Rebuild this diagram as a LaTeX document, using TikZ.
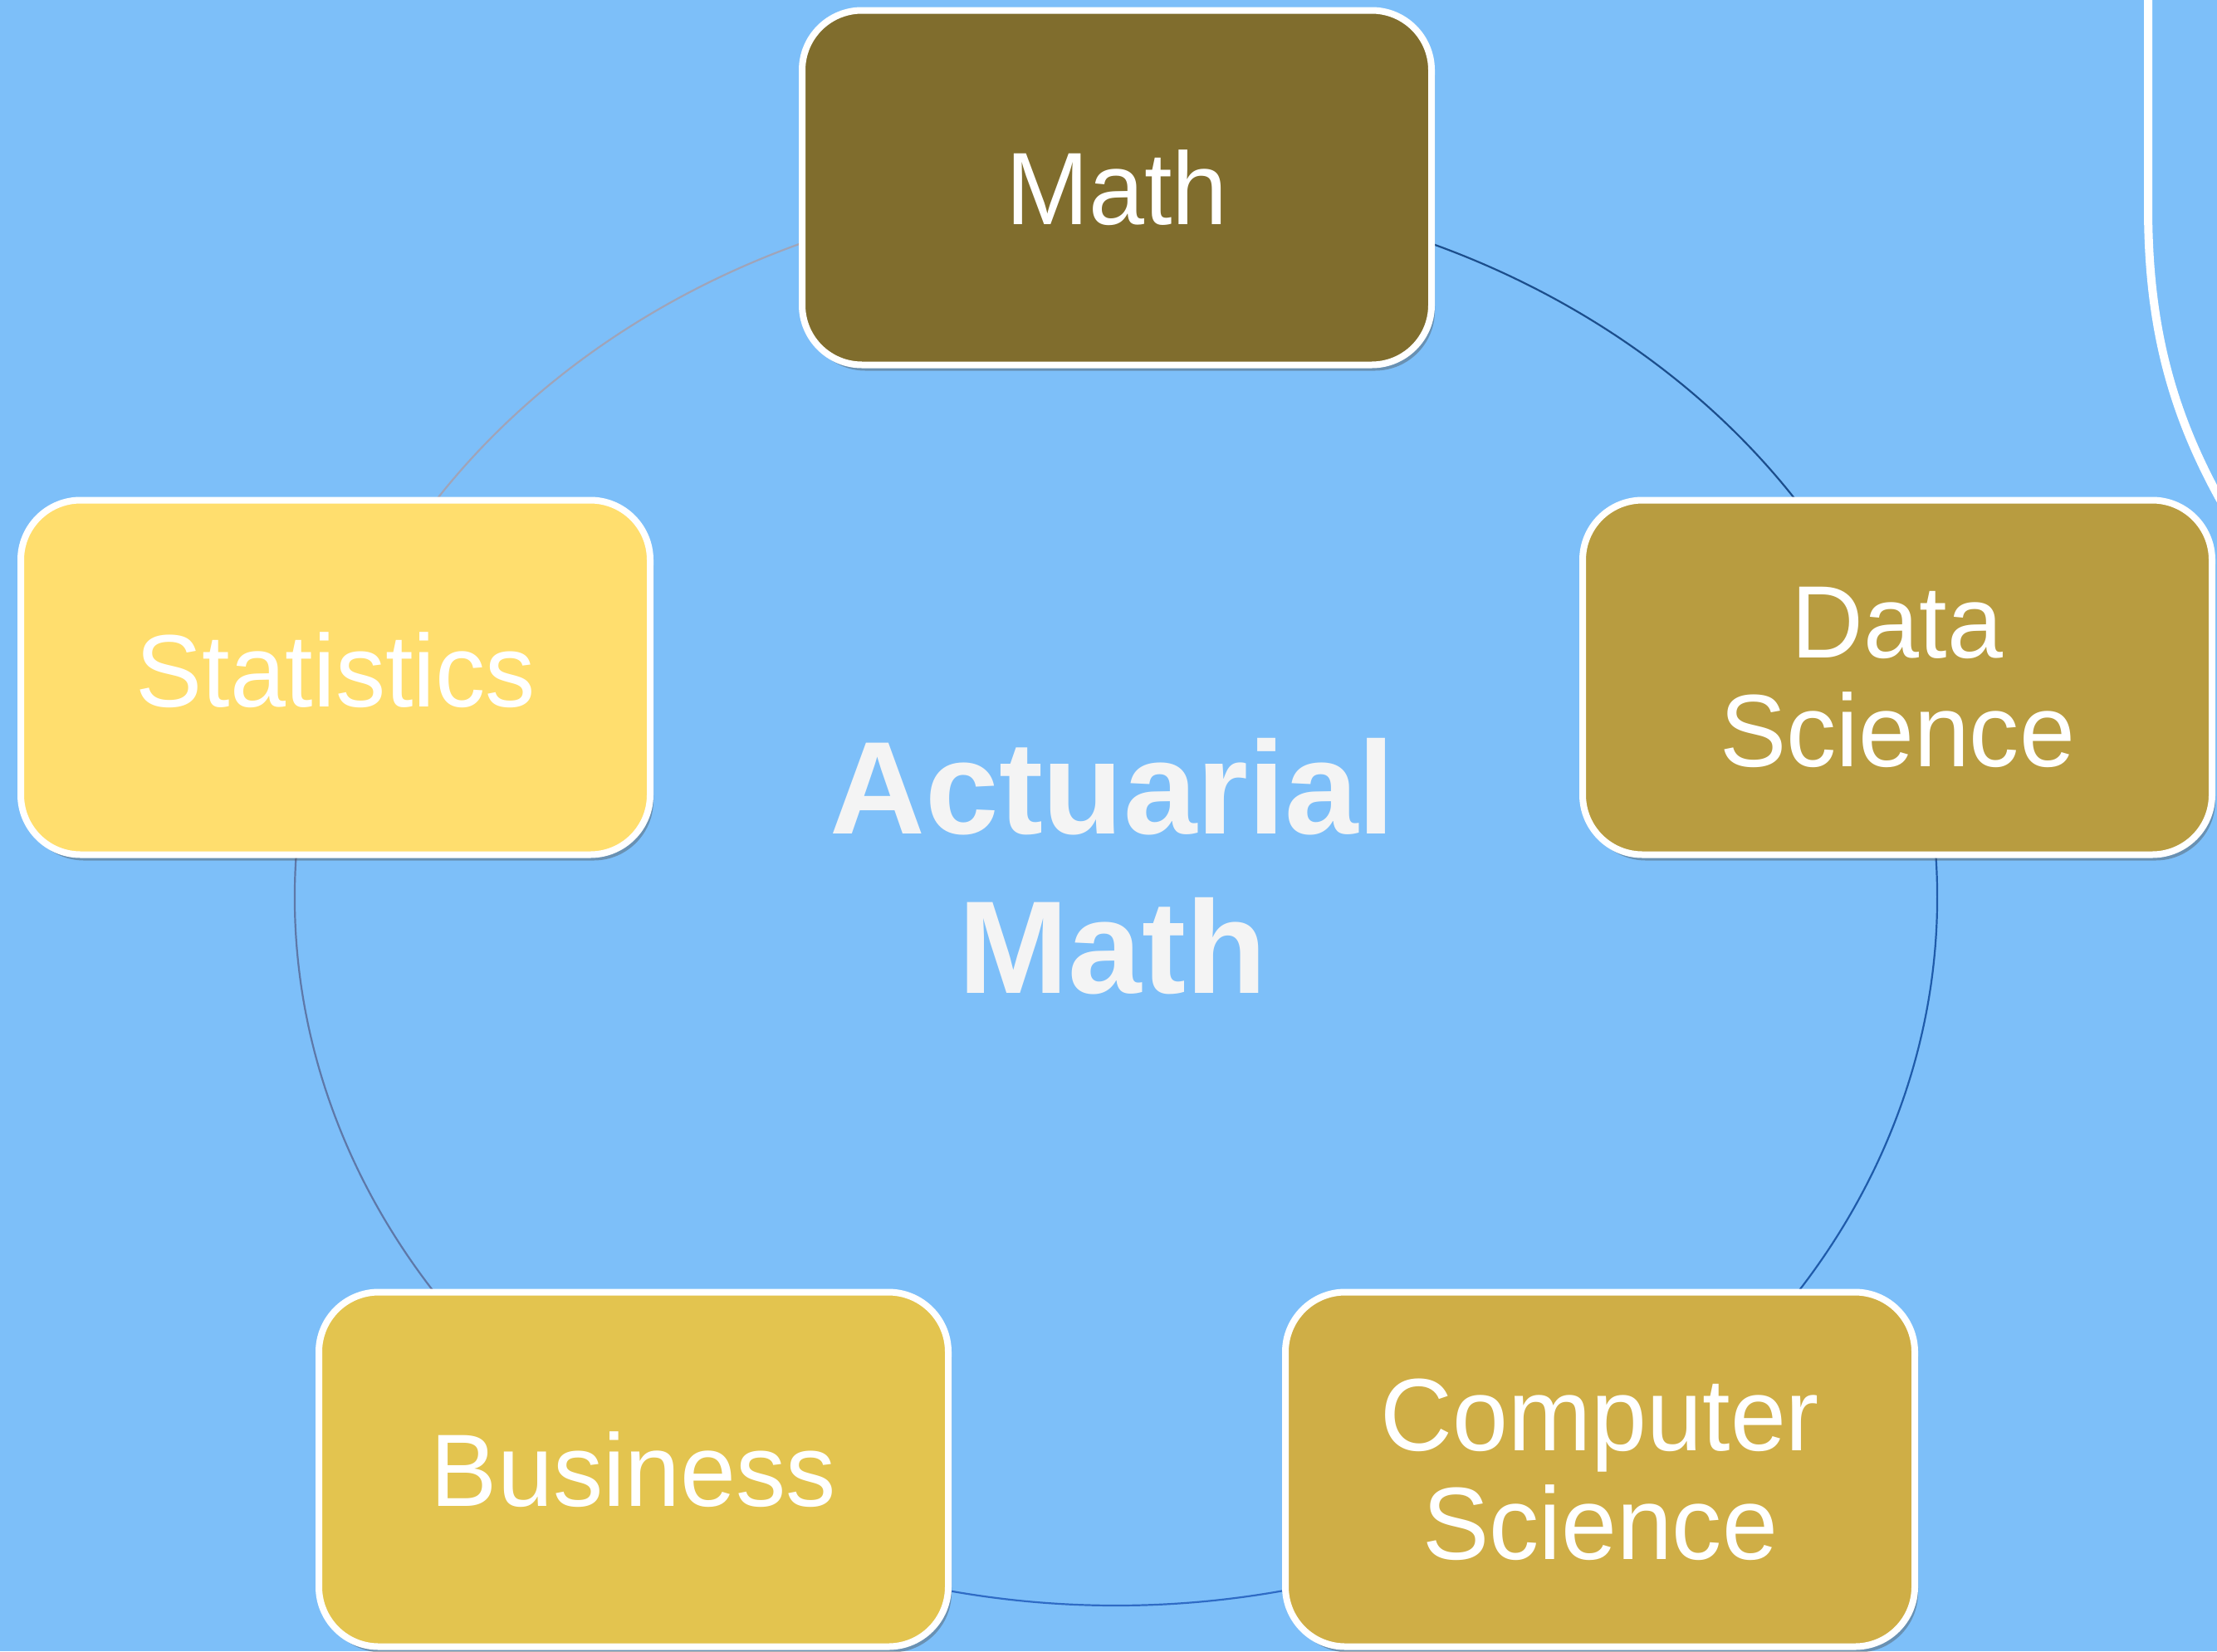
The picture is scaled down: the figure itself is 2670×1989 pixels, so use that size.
\documentclass[tikz,border=0pt]{standalone}
\usepackage{fontspec}
\setmainfont{Liberation Sans}
\newfontfamily\boxfont[FakeStretch=0.97]{Liberation Sans}
\usetikzlibrary{shadows}
\definecolor{bgblue}{HTML}{7DBFF9}
\definecolor{cmath}{HTML}{806D2D}
\definecolor{cstat}{HTML}{FFDE6E}
\definecolor{cdata}{HTML}{B89C40}
\definecolor{cbus}{HTML}{E3C44F}
\definecolor{ccomp}{HTML}{CFAE46}
\definecolor{ctext}{HTML}{F4F4F4}
\definecolor{arcA}{HTML}{1C4E8C}
\definecolor{arcB}{HTML}{1F5BAA}
\definecolor{arcC}{HTML}{2F6BC5}
\definecolor{arcD}{HTML}{5E78A8}
\definecolor{arcE}{HTML}{A0A4B8}
\tikzset{
  topicbox/.style={draw=white, line width=8pt, rounded corners=72pt,
    minimum width=758pt, minimum height=427pt, text=white, align=center,
    font=\boxfont\fontsize{124}{131}\selectfont,
    drop shadow={shadow xshift=4pt, shadow yshift=-7pt, opacity=0.4, fill=black!70}},
  ringarc/.style={line width=2.2pt},
}
\begin{document}
\begin{tikzpicture}[x=1pt,y=1pt]
\useasboundingbox (0,0) rectangle (2670,-1989);
\fill[bgblue] (0,0) rectangle (2670,-1989);
% decorative white border at top right
\draw[white, line width=10pt] (2587,10) -- (2587,-250) .. controls (2587,-400) and (2618,-510) .. (2690,-630);
% ring
\coordinate (C) at (1344,-1081);
\draw[ringarc, arcA] (C) ++(90:989 and 853) arc[start angle=90, end angle=18, x radius=989, y radius=853];
\draw[ringarc, arcB] (C) ++(18:989 and 853) arc[start angle=18, end angle=-54, x radius=989, y radius=853];
\draw[ringarc, arcC] (C) ++(-54:989 and 853) arc[start angle=-54, end angle=-126, x radius=989, y radius=853];
\draw[ringarc, arcD] (C) ++(-126:989 and 853) arc[start angle=-126, end angle=-198, x radius=989, y radius=853];
\draw[ringarc, arcE] (C) ++(162:989 and 853) arc[start angle=162, end angle=90, x radius=989, y radius=853];
% boxes
\node[topicbox, fill=cmath] (math) at (1345,-226) {Math};
\node[topicbox, fill=cdata] (data) at (2285,-816) {Data\\Science};
\node[topicbox, fill=ccomp] (comp) at (1927,-1770) {Computer\\Science};
\node[topicbox, fill=cbus] (bus) at (763,-1770) {Business};
\node[topicbox, fill=cstat] (stat) at (404,-816) {\raisebox{18pt}{Statistics}};
% center
\node[text=ctext, align=center, font=\bfseries\fontsize{159}{192}\selectfont] (center) at (1340,-1044) {Actuarial\\Math};
\end{tikzpicture}
\end{document}
